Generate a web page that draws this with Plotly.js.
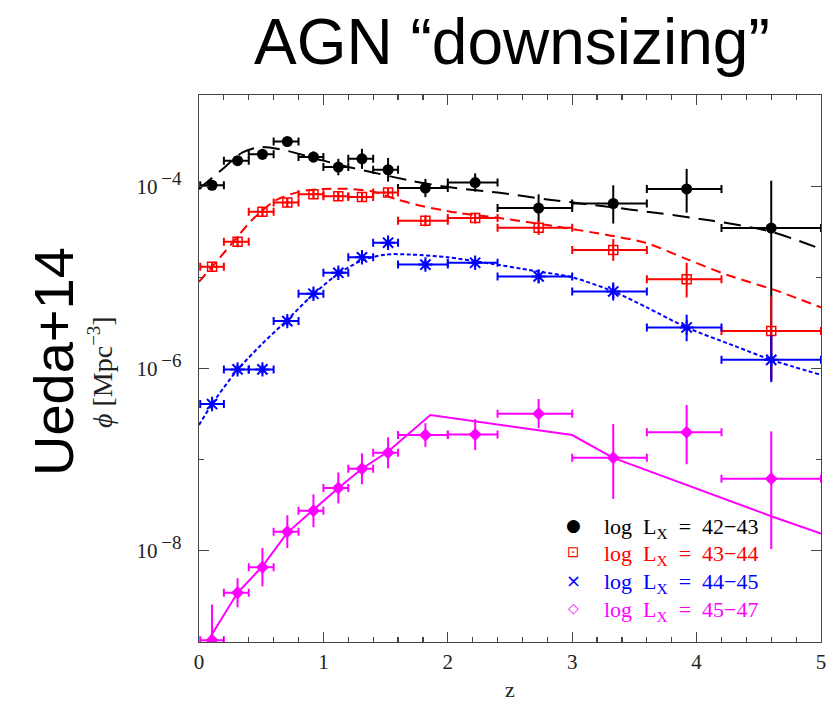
<!DOCTYPE html>
<html>
<head>
<meta charset="utf-8">
<script src="https://cdn.plot.ly/plotly-3.0.1.min.js"></script>
<style>html,body{margin:0;padding:0;background:#fff;}#chart{width:827px;height:703px;}</style>
</head>
<body>
<div id="chart"></div>
<script>
// ---- redshift bins ----
const zMid = [0.105, 0.31, 0.51, 0.71, 0.92, 1.12, 1.31, 1.52, 1.82, 2.22, 2.73, 3.33, 3.92, 4.60];
const zLo  = [0.01, 0.2, 0.4, 0.6, 0.8, 1.0, 1.2, 1.4, 1.6, 2.0, 2.4, 3.0, 3.6, 4.2];
const zHi  = [0.2, 0.4, 0.6, 0.8, 1.0, 1.2, 1.4, 1.6, 2.0, 2.4, 3.0, 3.6, 4.2, 5.0];

// ---- data points: log10(phi) and errors in dex ----
const logPhi4243 = [-3.99, -3.72, -3.65, -3.51, -3.68, -3.79, -3.70, -3.82, -4.02, -3.96, -4.24, -4.19, -4.03, -4.46];
const errUp4243  = [0.05, 0.05, 0.06, 0.05, 0.06, 0.09, 0.11, 0.13, 0.10, 0.10, 0.15, 0.20, 0.22, 0.52];
const errDn4243  = [0.05, 0.05, 0.06, 0.05, 0.06, 0.09, 0.11, 0.13, 0.10, 0.10, 0.16, 0.22, 0.26, 1.67];

const logPhi4344 = [-4.885, -4.61, -4.28, -4.18, -4.09, -4.11, -4.12, -4.07, -4.38, -4.35, -4.455, -4.70, -5.02, -5.59];
const errUp4344  = [0.05, 0.06, 0.05, 0.05, 0.05, 0.05, 0.05, 0.05, 0.06, 0.06, 0.08, 0.12, 0.18, 0.38];
const errDn4344  = [0.05, 0.06, 0.05, 0.05, 0.05, 0.05, 0.05, 0.05, 0.06, 0.06, 0.08, 0.12, 0.20, 0.54];

const logPhi4445 = [-6.39, -6.01, -6.01, -5.48, -5.18, -4.95, -4.78, -4.62, -4.86, -4.84, -4.99, -5.155, -5.55, -5.905];
const errUp4445  = [0.04, 0.05, 0.05, 0.05, 0.05, 0.05, 0.05, 0.06, 0.05, 0.05, 0.07, 0.10, 0.14, 0.27];
const errDn4445  = [0.04, 0.05, 0.05, 0.05, 0.05, 0.05, 0.05, 0.06, 0.05, 0.05, 0.07, 0.10, 0.15, 0.245];

const logPhi4547 = [-8.98, -8.46, -8.18, -7.79, -7.56, -7.31, -7.10, -6.925, -6.73, -6.725, -6.495, -6.98, -6.70, -7.21];
const errUp4547  = [0.39, 0.16, 0.21, 0.18, 0.18, 0.17, 0.17, 0.17, 0.13, 0.17, 0.16, 0.37, 0.30, 0.52];
const errDn4547  = [0.40, 0.16, 0.21, 0.18, 0.18, 0.17, 0.17, 0.17, 0.13, 0.17, 0.16, 0.45, 0.35, 0.77];

// ---- model curves (log10 phi) ----
const zModel4243 = [0, 0.2, 0.35, 0.5, 0.7, 1.0, 1.2, 1.4, 1.7, 2.0, 2.4, 2.8, 3.46, 4.13, 4.6, 5.0];
const model4243  = [-4.03, -3.80, -3.63, -3.57, -3.61, -3.72, -3.79, -3.85, -3.94, -4.01, -4.07, -4.145, -4.255, -4.38, -4.50, -4.69];

const zModel4344 = [0, 0.17, 0.3, 0.42, 0.61, 0.81, 1.0, 1.2, 1.4, 1.59, 1.8, 2.07, 2.42, 2.93, 3.3, 3.59, 3.92, 4.26, 4.65, 5.0];
const model4344  = [-5.05, -4.78, -4.57, -4.38, -4.16, -4.06, -4.03, -4.03, -4.06, -4.145, -4.22, -4.29, -4.35, -4.455, -4.54, -4.62, -4.80, -4.98, -5.15, -5.33];

const zModel4445 = [0, 0.1, 0.3, 0.5, 0.7, 0.9, 1.1, 1.3, 1.5, 1.7, 2.0, 2.3, 2.7, 3.0, 3.33, 3.6, 3.92, 4.3, 4.6, 5.0];
const model4445  = [-6.62, -6.40, -6.03, -5.74, -5.48, -5.21, -4.98, -4.82, -4.75, -4.75, -4.78, -4.84, -4.93, -5.0, -5.155, -5.33, -5.55, -5.75, -5.905, -6.07];

const zModel4547 = [0.066, 0.31, 0.51, 0.71, 0.92, 1.12, 1.31, 1.52, 1.86, 3.0, 3.33, 3.92, 4.6, 5.0];
const model4547  = [-9.0, -8.46, -8.17, -7.80, -7.55, -7.31, -7.10, -6.91, -6.51, -6.73, -6.98, -7.28, -7.62, -7.81];

// ---- labels ----
const seriesNames = ['42\u221243', '43\u221244', '44\u221245', '45\u221247'];
const seriesColors = ['#000000', '#ff0000', '#0000ff', '#ff00ff'];
const legendSymbols = ['\u25CF', '\u22A1', '\u00D7', '\u25C7'];
const yTickVals = [1e-8, 1e-6, 1e-4];
const yTickExp = ['\u22128', '\u22126', '\u22124'];
const yMinorVals = [1e-9, 1e-7, 1e-5, 1e-3];
const xTickVals = [0, 1, 2, 3, 4, 5];
const titleText = 'AGN \u201Cdownsizing\u201D';
const sideText = 'Ueda+14';

const pow = a => a.map(v => Math.pow(10, v));
function errs(logv, up, dn) {
  return {
    plus: logv.map((v, i) => Math.pow(10, v + up[i]) - Math.pow(10, v)),
    minus: logv.map((v, i) => Math.pow(10, v) - Math.pow(10, v - dn[i]))
  };
}
const xPlus = zMid.map((v, i) => zHi[i] - v);
const xMinus = zMid.map((v, i) => v - zLo[i]);

const serif = '"Liberation Serif", "DejaVu Serif", serif';
const NB = '\u00A0';

function modelTrace(zs, ls, color, dash, shape) {
  return { x: zs, y: pow(ls), mode: 'lines', type: 'scatter', hoverinfo: 'skip',
    line: { color: color, width: 2, dash: dash, shape: shape, smoothing: 0.8 } };
}
function pointTrace(logv, up, dn, color, marker) {
  const e = errs(logv, up, dn);
  return { x: zMid, y: pow(logv), mode: 'markers', type: 'scatter', marker: marker,
    error_x: { type: 'data', symmetric: false, array: xPlus, arrayminus: xMinus, color: color, thickness: 2, width: 4 },
    error_y: { type: 'data', symmetric: false, array: e.plus, arrayminus: e.minus, color: color, thickness: 2, width: 0 } };
}

const traces = [
  modelTrace(zModel4243, model4243, seriesColors[0], '17px,9px', 'spline'),
  modelTrace(zModel4344, model4344, seriesColors[1], '10px,6px', 'spline'),
  modelTrace(zModel4445, model4445, seriesColors[2], '4px,2.5px', 'spline'),
  modelTrace(zModel4547, model4547, seriesColors[3], 'solid', 'linear'),
  pointTrace(logPhi4243, errUp4243, errDn4243, seriesColors[0], { symbol: 'circle', size: 11, color: seriesColors[0] }),
  pointTrace(logPhi4344, errUp4344, errDn4344, seriesColors[1], { symbol: 'square-cross-open', size: 9, color: seriesColors[1], line: { color: seriesColors[1], width: 1.5 } }),
  pointTrace(logPhi4445, errUp4445, errDn4445, seriesColors[2], { symbol: 'asterisk-open', size: 12, color: seriesColors[2], line: { color: seriesColors[2], width: 2 } }),
  pointTrace(logPhi4547, errUp4547, errDn4547, seriesColors[3], { symbol: 'diamond', size: 10, color: seriesColors[3] })
];

// plot area in px: x 199..821, y 95..642
const W = 622, H = 547;
const px = p => (p - 199) / W;
const py = p => (642 - p) / H;

const annotations = [
  { text: titleText, xref: 'paper', yref: 'paper', x: px(512), y: py(42), xanchor: 'center', yanchor: 'middle', showarrow: false,
    font: { family: '"Liberation Sans", Arial, sans-serif', size: 64, color: '#000' } },
  { text: sideText, xref: 'paper', yref: 'paper', x: px(53), y: py(362), xanchor: 'center', yanchor: 'middle', textangle: -90, showarrow: false,
    font: { family: '"Liberation Sans", Arial, sans-serif', size: 56, color: '#000' } },
  { text: '<i>\u03D5</i>' + NB + '[Mpc<sup><span style="font-size:19px">\u22123</span></sup>]', xref: 'paper', yref: 'paper', x: px(101), y: py(372), xanchor: 'center', yanchor: 'middle', textangle: -90, showarrow: false,
    font: { family: serif, size: 28, color: '#222' } },
  { text: 'z', xref: 'paper', yref: 'paper', x: px(510), y: py(689), xanchor: 'center', yanchor: 'middle', showarrow: false,
    font: { family: serif, size: 22, color: '#222' } }
];
const legRows = [525, 552, 580, 608];
const legSizes = [17, 15, 18, 14];
seriesNames.forEach((nm, i) => {
  annotations.push({ text: legendSymbols[i], xref: 'paper', yref: 'paper', x: px(573), y: py(legRows[i]), xanchor: 'center', yanchor: 'middle', showarrow: false,
    font: { family: '"DejaVu Sans", sans-serif', size: legSizes[i], color: seriesColors[i] } });
  annotations.push({ text: 'log' + NB + NB + 'L<sub>X</sub>' + NB + NB + '=' + NB + NB + nm, xref: 'paper', yref: 'paper', x: px(602), y: py(legRows[i] + 3), xanchor: 'left', yanchor: 'middle', showarrow: false,
    font: { family: serif, size: 22, color: seriesColors[i] } });
});

const axisCommon = {
  showgrid: false, zeroline: false, showline: true, linecolor: '#444', linewidth: 1.3,
  mirror: 'ticks', ticks: 'inside', tickcolor: '#444', tickwidth: 1.2, ticklen: 10,
  tickfont: { family: serif, size: 21, color: '#222' }
};

const layout = {
  width: 827, height: 703,
  margin: { l: 199, r: 6, t: 95, b: 61 },
  paper_bgcolor: '#fff', plot_bgcolor: '#fff',
  showlegend: false,
  xaxis: Object.assign({}, axisCommon, {
    range: [0, 5], tickmode: 'array', tickvals: xTickVals, ticktext: xTickVals.map(String),
    minor: { dtick: 0.2, tick0: 0, ticks: 'inside', ticklen: 5, tickcolor: '#444', tickwidth: 1.2 }
  }),
  yaxis: Object.assign({}, axisCommon, {
    type: 'log', range: [-9, -3], tickmode: 'array', tickvals: yTickVals,
    ticktext: yTickExp.map(e => '10<sup><span style="font-size:19px">\u2009' + e + '</span></sup>'),
    ticklabelstandoff: 12,
    minor: { tickmode: 'array', tickvals: yMinorVals, ticks: 'inside', ticklen: 5, tickcolor: '#444', tickwidth: 1.2 }
  }),
  annotations: annotations
};

Plotly.newPlot('chart', traces, layout, { staticPlot: true, displayModeBar: false });
</script>
</body>
</html>
